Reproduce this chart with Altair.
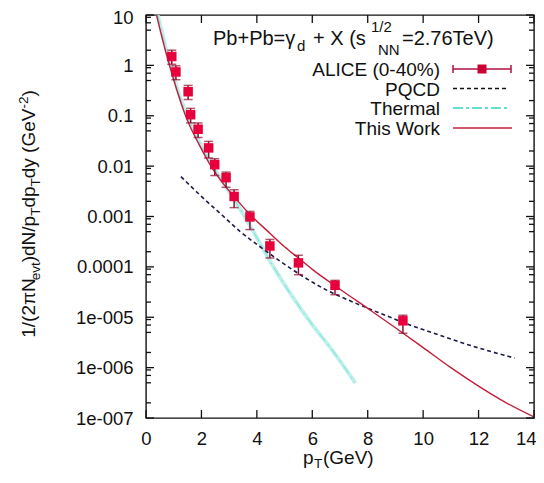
import altair as alt
import pandas as pd

FONT = "Liberation Sans"

# ---------------- data ----------------
alice_pt = [0.93, 1.08, 1.52, 1.61, 1.88, 2.26, 2.48, 2.89, 3.18, 3.75, 4.47, 5.50, 6.82, 9.27]
alice_y = [1.5, 0.74, 0.30, 0.105, 0.054, 0.023, 0.0107, 0.0059, 0.0025, 0.00098, 2.6e-4, 1.2e-4, 4.3e-5, 8.5e-6]
alice_lo = [1.05, 0.52, 0.21, 0.072, 0.037, 0.0145, 0.0065, 0.0038, 0.0015, 0.00055, 1.5e-4, 7e-5, 2.8e-5, 4.8e-6]
alice_hi = [2.0, 0.98, 0.40, 0.14, 0.072, 0.031, 0.014, 0.0076, 0.0034, 0.00126, 3.5e-4, 1.7e-4, 5.4e-5, 1.1e-5]

work_pt = [0.38, 0.6, 0.8, 1.0, 1.2, 1.4, 1.6, 1.9, 2.3, 2.8, 3.2, 3.75, 4.5, 5.0, 5.5,
           6.0, 7.0, 8.0, 9.0, 10.0, 11.0, 12.0, 13.0, 14.0]
work_y = [10, 3.2, 1.25, 0.52, 0.23, 0.11, 0.06, 0.028, 0.011, 0.0044, 0.0024, 0.0011, 4.5e-4, 2.5e-4, 1.5e-4,
          8.9e-5, 3.6e-5, 1.5e-5, 6.2e-6, 2.5e-6, 1.0e-6, 4.3e-7, 2.0e-7, 1.05e-7]

thermal_pt = [0.42, 0.6, 0.8, 1.0, 1.2, 1.4, 1.6, 1.9, 2.3, 2.8, 3.4, 4.0, 4.6, 5.2, 6.0, 6.65, 7.55]
thermal_y = [10, 4.0, 1.4, 0.6, 0.26, 0.13, 0.071, 0.032, 0.0125, 0.0046, 0.0014, 3.8e-4, 1.0e-4,
             3.0e-5, 7.1e-6, 2.5e-6, 5.0e-7]

pqcd_pt = [1.26, 2.0, 2.8, 3.4, 4.0, 4.84, 5.8, 6.5, 7.47, 8.5, 9.5, 10.5, 11.33, 12.3, 13.3]
pqcd_y = [6.2e-3, 2.5e-3, 1.0e-3, 5.0e-4, 2.8e-4, 1.3e-4, 5.8e-5, 3.5e-5, 2.0e-5, 1.17e-5,
          7.1e-6, 4.6e-6, 3.2e-6, 2.2e-6, 1.55e-6]

xtick_vals = [0, 2, 4, 6, 8, 10, 12, 14]
ytick_vals = [10, 1, 0.1, 0.01, 0.001, 0.0001, 1e-5, 1e-6, 1e-7]
ytick_labels = ["10", "1", "0.1", "0.01", "0.001", "0.0001", "1e-005", "1e-006", "1e-007"]
minor_mult = [2, 5, 7, 9]
yminor_vals = [m * v for v in ytick_vals[1:] for m in minor_mult]

# ---------------- layout ----------------
W, H = 388, 403
PX0, PY0 = 146, 15  # page position of plot area's top-left

xscale = alt.Scale(domain=[0, 14], nice=False, zero=False)
yscale = alt.Scale(type="log", domain=[1e-7, 10], nice=False)

lab = "''"
for v, s in zip(reversed(ytick_vals), reversed(ytick_labels)):
    lab = f"datum.value >= {v * 0.5} ? '{s}' : " + lab
ylabel_expr = lab

last_x = xtick_vals[-1]
top_y = ytick_vals[0]
xaxis = alt.Axis(values=xtick_vals, format="d", ticks=False, tickSize=0, domain=False, grid=False,
                 labelFont=FONT, labelFontSize=18.5, labelColor="#111", labelPadding=11,
                 labelFlush=False, title=None,
                 labelAlign={"condition": {"test": f"datum.value >= {last_x}", "value": "right"},
                             "value": "center"},
                 labelOffset={"condition": {"test": f"datum.value >= {last_x}", "value": 2},
                              "value": 0})
yaxis = alt.Axis(values=ytick_vals, labelExpr=ylabel_expr, ticks=False, tickSize=0, domain=False,
                 grid=False, labelFont=FONT, labelFontSize=18.5, labelColor="#111", labelPadding=13,
                 title=None,
                 labelOffset={"condition": {"test": f"datum.value >= {top_y * 0.5}", "value": 2},
                              "value": 0})


def X(f="x"):
    return alt.X(f"{f}:Q", scale=xscale, axis=xaxis)


def Y(f="y"):
    return alt.Y(f"{f}:Q", scale=yscale, axis=yaxis)


def line_df(xs, ys):
    return pd.DataFrame({"x": xs, "y": ys})


alice = pd.DataFrame({"x": alice_pt, "y": alice_y, "lo": alice_lo, "hi": alice_hi})

thermal = alt.Chart(line_df(thermal_pt, thermal_y)).mark_line(
    color="#b8f0ea", strokeWidth=4, opacity=0.9, interpolate="monotone", clip=True
).encode(x=X(), y=Y())
thermal_core = alt.Chart(line_df(thermal_pt, thermal_y)).mark_line(
    color="#6cdcd0", strokeWidth=1, strokeDash=[10, 4, 2, 4], opacity=0.8, interpolate="monotone", clip=True
).encode(x=X(), y=Y())
pqcd = alt.Chart(line_df(pqcd_pt, pqcd_y)).mark_line(
    color="#1c1c48", strokeWidth=1.6, strokeDash=[4, 3], interpolate="monotone", clip=True
).encode(x=X(), y=Y())
work = alt.Chart(line_df(work_pt, work_y)).mark_line(
    color="#c41e3a", strokeWidth=1.4, interpolate="monotone", clip=True
).encode(x=X(), y=Y())

ebar = alt.Chart(alice).mark_rule(color="#901030", strokeWidth=1.5).encode(
    x=X(), y=Y("lo"), y2=alt.Y2("hi:Q"))
cap_lo = alt.Chart(alice).mark_tick(color="#901030", orient="horizontal", size=9, thickness=1.5).encode(
    x=X(), y=Y("lo"))
cap_hi = alt.Chart(alice).mark_tick(color="#901030", orient="horizontal", size=9, thickness=1.5).encode(
    x=X(), y=Y("hi"))
pts = alt.Chart(alice).mark_square(color="#e8003c", size=90, opacity=1).encode(x=X(), y=Y())

# ---------------- inward ticks (all four sides) ----------------
ymaj = pd.DataFrame({"y": ytick_vals})
ymin = pd.DataFrame({"y": yminor_vals})
xmaj = pd.DataFrame({"x": xtick_vals})
TK = dict(color="#111", strokeWidth=1.3)
ticks = [
    alt.Chart(ymaj).mark_rule(**TK).encode(x=alt.value(0), x2=alt.value(8), y=Y()),
    alt.Chart(ymaj).mark_rule(**TK).encode(x=alt.value(W - 8), x2=alt.value(W), y=Y()),
    alt.Chart(ymin).mark_rule(**TK).encode(x=alt.value(0), x2=alt.value(5), y=Y()),
    alt.Chart(ymin).mark_rule(**TK).encode(x=alt.value(W - 5), x2=alt.value(W), y=Y()),
    alt.Chart(xmaj).mark_rule(**TK).encode(x=X(), y=alt.value(H - 8), y2=alt.value(H)),
    alt.Chart(xmaj).mark_rule(**TK).encode(x=X(), y=alt.value(0), y2=alt.value(8)),
]

one = pd.DataFrame({"a": [0]})


def txt(s, px, py, size=19, align="left", angle=0, baseline="alphabetic", color="#111"):
    return alt.Chart(one).mark_text(
        text=s, font=FONT, fontSize=size, align=align, angle=angle, baseline=baseline, color=color
    ).encode(x=alt.value(px - PX0), y=alt.value(py - PY0))


texts = []
# in-plot title
TS, SS = 20, 15
texts += [
    txt("Pb+Pb=γ", 213, 45, TS),
    txt("d", 297, 51, SS),
    txt("+ X (s", 313, 45, TS),
    txt("1/2", 371, 32, SS),
    txt("NN", 378, 55, SS),
    txt("=2.76TeV)", 402, 45, TS),
]

# legend
LX = 440
leg_labels = ["ALICE (0-40%)", "PQCD", "Thermal", "This Work"]
leg_y = [69, 88.5, 108, 128]
for s, yy in zip(leg_labels, leg_y):
    texts.append(txt(s, LX, yy + 7, 19, align="right"))

legend_marks = [
    alt.Chart(one).mark_rule(color="#b01040", strokeWidth=1.5).encode(
        x=alt.value(453 - PX0), x2=alt.value(511 - PX0), y=alt.value(leg_y[0] - PY0)),
    alt.Chart(one).mark_rule(color="#b01040", strokeWidth=1.5).encode(
        x=alt.value(453 - PX0), y=alt.value(leg_y[0] - 4 - PY0), y2=alt.value(leg_y[0] + 4 - PY0)),
    alt.Chart(one).mark_rule(color="#b01040", strokeWidth=1.5).encode(
        x=alt.value(511 - PX0), y=alt.value(leg_y[0] - 4 - PY0), y2=alt.value(leg_y[0] + 4 - PY0)),
    alt.Chart(one).mark_square(color="#cc0033", size=81, opacity=1).encode(
        x=alt.value(482 - PX0), y=alt.value(leg_y[0] - PY0)),
    alt.Chart(one).mark_rule(color="#111", strokeWidth=1.4, strokeDash=[4, 3]).encode(
        x=alt.value(453 - PX0), x2=alt.value(507 - PX0), y=alt.value(leg_y[1] - PY0)),
    alt.Chart(one).mark_rule(color="#30d4c4", strokeWidth=1.6, strokeDash=[10, 3, 3, 3]).encode(
        x=alt.value(453 - PX0), x2=alt.value(510 - PX0), y=alt.value(leg_y[2] - PY0)),
    alt.Chart(one).mark_rule(color="#c41e3a", strokeWidth=1.4).encode(
        x=alt.value(453 - PX0), x2=alt.value(512 - PX0), y=alt.value(leg_y[3] - PY0)),
]

# x axis title p_T(GeV)
texts += [
    txt("p", 303, 464, 19),
    txt("T", 314, 467.5, 13.5),
    txt("(GeV)", 323, 464, 19),
]

# y axis title, rotated, built from pieces
CW = {'1': 556, '/': 278, '(': 333, '2': 556, 'π': 580, 'N': 722, 'e': 556, 'v': 500, 't': 278,
      ')': 333, 'd': 556, 'p': 556, 'T': 611, 'y': 500, ' ': 278, 'G': 778, 'V': 667, '-': 333}
MS, SBS = 19, 13.5
segs = [("1/(2πN", "m"), ("evt", "sub"), (")dN/p", "m"), ("T", "sub"), ("dp", "m"), ("T", "sub"),
        ("dy (GeV", "m"), ("-2", "sup"), (")", "m")]


def seg_w(s, kind):
    fs = MS if kind == "m" else SBS
    return sum(CW[c] for c in s) * fs / 1000.0


total = sum(seg_w(s, k) for s, k in segs)
yc = 214
ystart = yc + total / 2
base_x = {"m": 35, "sub": 39.5, "sup": 28}
cum = 0.0
for s, k in segs:
    fs = MS if k == "m" else SBS
    texts.append(txt(s, base_x[k], ystart - cum, fs, align="left", angle=270))
    cum += seg_w(s, k)

chart = alt.layer(
    thermal, thermal_core, pqcd, work, ebar, cap_lo, cap_hi, pts, *ticks, *legend_marks, *texts
).properties(
    width=W, height=H,
    autosize=alt.AutoSizeParams(type="none"),
    padding={"left": PX0 - 8, "top": PY0 - 8, "right": 2, "bottom": 52},
    background="white",
).configure_view(stroke="#111", strokeWidth=1.4)

chart.save("out.html", embed_options={"renderer": "svg", "actions": False})
